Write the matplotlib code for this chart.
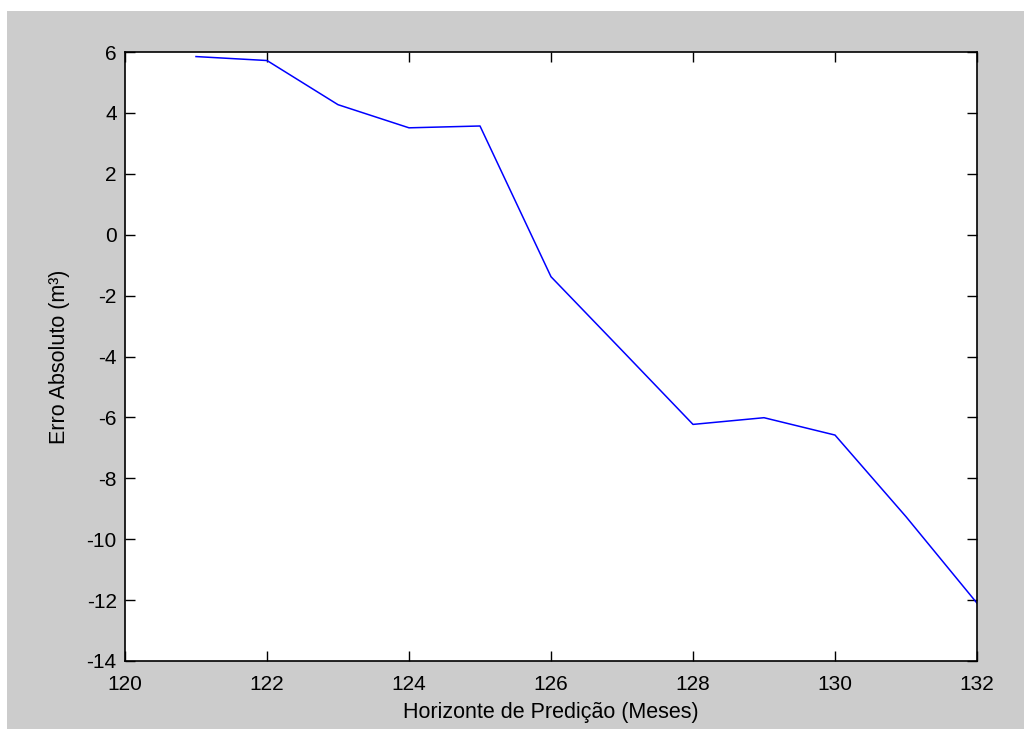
import matplotlib.pyplot as plt
from matplotlib.patches import Rectangle

# Horizonte de predição (meses) e erro absoluto
meses = [121, 122, 123, 124, 125, 126, 127, 128, 129, 130, 131, 132]
erro = [5.85, 5.72, 4.27, 3.51, 3.57, -1.38, -3.8, -6.23, -6.01, -6.58, -9.26, -12.1]

xticks = [120, 122, 124, 126, 128, 130, 132]
yticks = [-14, -12, -10, -8, -6, -4, -2, 0, 2, 4, 6]

plt.rcParams['font.family'] = ['Liberation Sans', 'DejaVu Sans']
plt.rcParams['axes.unicode_minus'] = False

fig = plt.figure(figsize=(10.24, 7.29), dpi=100, facecolor="white")
# fundo cinza estilo MATLAB
fig.patches.append(Rectangle((7 / 1024, 0), 1017 / 1024, 718 / 729,
                             transform=fig.transFigure, facecolor="#cccccc",
                             edgecolor="none", zorder=-10))

ax = fig.add_axes([125 / 1024, 1 - 661 / 729, 852 / 1024, 609 / 729])
ax.set_zorder(1)
ax.set_facecolor("white")
ax.plot(meses, erro, color="#0000ff", linewidth=1.1)

ax.set_xlim(120, 132)
ax.set_ylim(-14, 6)
ax.set_xticks(xticks)
ax.set_yticks(yticks)
ax.tick_params(direction="in", length=7, width=1, top=True, right=True,
               labelsize=15)
ax.tick_params(axis="x", pad=10)
ax.tick_params(axis="y", pad=6)
for s in ax.spines.values():
    s.set_linewidth(1.2)

ax.set_xlabel("Horizonte de Predição (Meses)", fontsize=15.5, labelpad=6)
ax.set_ylabel("Erro Absoluto (m³)", fontsize=15.5, labelpad=12)

fig.savefig("out.png", dpi=100, facecolor=fig.get_facecolor())
